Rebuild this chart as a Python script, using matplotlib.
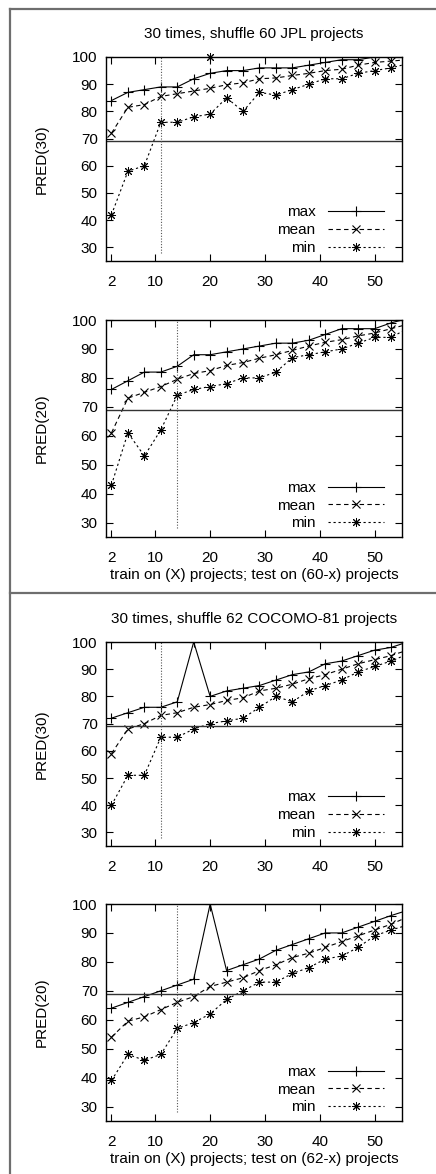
import numpy as np
import matplotlib.pyplot as plt
from matplotlib.lines import Line2D

plt.rcParams['font.family'] = ['Liberation Sans', 'DejaVu Sans']
plt.rcParams['font.size'] = 8.5

# training sizes (last point lies past the right edge, the line is clipped there)
x = [2, 5, 8, 11, 14, 17, 20, 23, 26, 29, 32, 35, 38, 41, 44, 47, 50, 53, 56]

# JPL, PRED(30)
jpl30_max = [84, 87, 88, 89, 89, 92, 94, 95, 95, 96, 96, 96, 97, 98, 99, 99, 100, 100, 100]
jpl30_mean = [72, 81.5, 82.5, 85.5, 86.5, 87.5, 88.5, 89.8, 90.5, 92, 92.3, 93.2, 94, 95, 95.5, 97, 98, 98.5, 99]
jpl30_min = [42, 58, 60, 76, 76, 78, 79, 85, 80, 87, 86, 88, 90, 92, 92, 94, 95, 96, 97.5]
jpl30_odd = ([20], [100])

# JPL, PRED(20)
jpl20_max = [76, 79, 82, 82, 84, 88, 88, 89, 90, 91, 92, 92, 93, 95, 97, 97, 97, 99, 100.5]
jpl20_mean = [61, 73, 75, 77, 79.5, 81.5, 82.5, 84.3, 85.3, 86.8, 88, 89.5, 91, 92.3, 93.2, 94.5, 95.5, 97, 98.5]
jpl20_min = [43, 61, 53, 62, 74, 76, 77, 78, 80, 80, 82, 87, 88, 89, 90, 92, 94, 94, 97]

# COCOMO-81, PRED(30)
coc30_max = [72, 74, 76, 76, 78, 100, 80, 82, 83, 84, 86, 88, 89, 92, 93, 95, 97, 98, 100]
coc30_mean = [59, 68, 70, 73, 74, 76, 77, 78.5, 79.5, 82, 83, 84.5, 86.5, 88, 90, 92, 93.5, 95, 97]
coc30_min = [40, 51, 51, 65, 65, 68, 70, 71, 72, 76, 80, 78, 82, 84, 86, 89, 91, 93, 95.5]

# COCOMO-81, PRED(20)
coc20_max = [64, 66, 68, 70, 72, 74, 100, 77, 79, 81, 84, 86, 88, 90, 90, 92, 94, 96, 97.8]
coc20_mean = [54, 59.5, 61, 63.5, 66, 68, 71.5, 73, 74.5, 77, 79, 81.5, 83, 85, 87, 89, 91, 93, 95.5]
coc20_min = [39, 48, 46, 48, 57, 59, 62, 67, 70, 73, 73, 76, 78, 81, 82, 85, 89, 91, 92.7]

threshold = 69
xticks = [2, 10, 20, 30, 40, 50]
yticks = [30, 40, 50, 60, 70, 80, 90, 100]

W, H = 436, 1174
fig = plt.figure(figsize=(W / 100, H / 100), dpi=100)

STAR = (8, 2, 0)  # gnuplot-like asterisk: + and x on top of each other


def px_axes(left, top, right, bottom):
    return fig.add_axes([left / W, 1 - bottom / H, (right - left) / W, (bottom - top) / H])


def panel(ax, ymax, ymean, ymin, cut, ylabel, title=None, xlabel=None, extra=None):
    ax.plot(x, ymax, color='black', lw=0.8, marker='+', ms=7, mew=0.8, label='max')
    ax.plot(x, ymean, color='black', lw=0.8, ls=(0, (4, 3)), marker='x', ms=6, mew=0.8, label='mean')
    ax.plot(x, ymin, color='black', lw=0.8, ls=(0, (2, 2.5)), marker=STAR, ms=6.5, mew=0.7, label='min')
    if extra is not None:
        ax.plot(extra[0], extra[1], ls='none', color='black', marker=STAR, ms=6.5, mew=0.7, clip_on=False)
    ax.axhline(threshold, color='#333333', lw=1.0)
    ax.plot([cut, cut], [28, 100], color='#555555', lw=0.8, ls=(0, (1, 1.5)))
    ax.set_xlim(1, 55)
    ax.set_ylim(25, 100)
    ax.set_xticks(xticks)
    ax.set_yticks(yticks)
    ax.tick_params(direction='in', length=5, width=0.8, top=True, right=True, labelsize=11)
    ax.tick_params(axis='x', pad=10)
    ax.tick_params(axis='y', pad=6)
    for s in ax.spines.values():
        s.set_linewidth(1.0)
    ax.set_ylabel(ylabel, fontsize=11)
    ax.yaxis.set_label_coords(-0.195, 0.5)
    if title:
        ax.set_title(title, fontsize=11, pad=14)
    if xlabel:
        ax.set_xlabel(xlabel, fontsize=11)
        ax.xaxis.set_label_coords(0.5, -0.145)
    ax.legend(loc='lower right', bbox_to_anchor=(0.94, 0.03), frameon=False, markerfirst=False,
              fontsize=11, borderpad=0, borderaxespad=0, labelspacing=0.25,
              handlelength=3.7, handletextpad=0.8)


ax1 = px_axes(106, 57, 402, 261)
panel(ax1, jpl30_max, jpl30_mean, jpl30_min, 11, 'PRED(30)',
      title='30 times, shuffle 60 JPL projects', extra=jpl30_odd)
ax2 = px_axes(106, 320, 402, 537)
panel(ax2, jpl20_max, jpl20_mean, jpl20_min, 14, 'PRED(20)',
      xlabel='train on (X) projects; test on (60-x) projects')
ax3 = px_axes(106, 642, 402, 846)
panel(ax3, coc30_max, coc30_mean, coc30_min, 11, 'PRED(30)',
      title='30 times, shuffle 62 COCOMO-81 projects')
ax4 = px_axes(106, 904, 402, 1121)
panel(ax4, coc20_max, coc20_mean, coc20_min, 14, 'PRED(20)',
      xlabel='train on (X) projects; test on (62-x) projects')

# table-like frame around the two figures
frame = dict(color='#6e6e6e', lw=1.6, transform=fig.transFigure)
fig.add_artist(Line2D([10 / W, 1], [1 - 9 / H, 1 - 9 / H], **frame))
fig.add_artist(Line2D([10 / W, 10 / W], [1 - 9 / H, 0], **frame))
fig.add_artist(Line2D([10 / W, 1], [1 - 593 / H, 1 - 593 / H], **frame))

fig.savefig('out.png', dpi=100)
